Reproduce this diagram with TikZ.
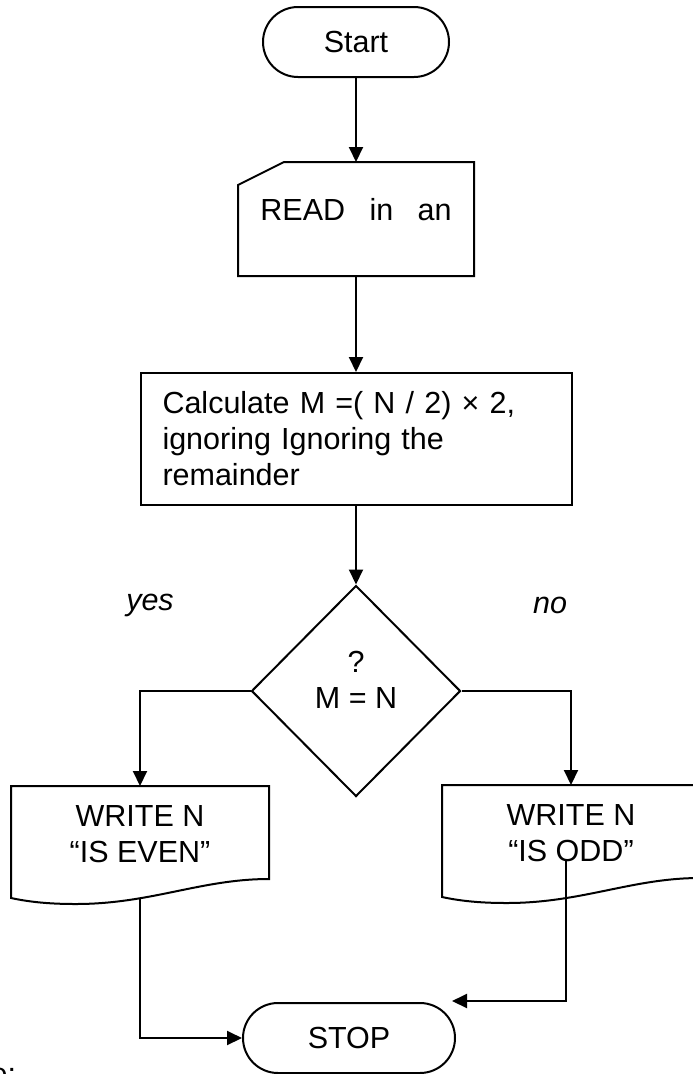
\documentclass[tikz,border=0pt]{standalone}
\usepackage{fontspec}
\setmainfont{Liberation Sans}
\usetikzlibrary{shapes.geometric, shapes.misc, arrows.meta, calc}

\tikzset{
  terminal/.style={draw, rounded rectangle, minimum height=70pt, inner sep=0pt},
  process/.style={draw, rectangle, align=left, text width=387pt, inner xsep=22pt, inner ysep=0pt, minimum height=132pt},
  decision/.style={draw, diamond, aspect=1, minimum width=209pt, minimum height=211pt, inner sep=0pt},
  cardbox/.style={rectangle, minimum width=234pt, minimum height=112pt, inner sep=0pt},
  docbox/.style={rectangle, minimum width=256pt, minimum height=110pt, inner sep=0pt},
  branch/.style={font=\fontsize{30.5}{36}\selectfont\itshape}
}

\begin{document}
\begin{tikzpicture}[x=1pt, y=-1pt, line width=2pt, font=\fontsize{30.5}{36}\selectfont,
                    >={Triangle[length=15pt,width=14pt]}]
                \useasboundingbox (0,0) rectangle (693,1074);

                \node[terminal, minimum width=186pt] (start) at (356,42) {Start};
                \node[cardbox, label={[yshift=9pt]center:READ\hspace{0.8em}in\hspace{0.8em}an}] (read) at (356,219) {};
                \node[process] (calc) at (356,439) {Calculate M =( N / 2) × 2,\\ignoring Ignoring the\\remainder};
                \node[decision, label={[align=center, yshift=11pt]center:?\\M = N}] (test) at (356,691) {};
                \node[docbox, label={[align=center, yshift=7.5pt]center:WRITE N\\“IS EVEN”}] (even) at (140,842) {};
                \node[docbox, label={[align=center, yshift=7.5pt]center:WRITE N\\“IS ODD”}] (odd) at (571,841) {};
                \node[terminal, minimum width=212pt] (stop) at (349,1038) {STOP};

                \node[branch] (yes) at (150,605) {yes};
                \node[branch] (no) at (550,605) {no};
                \node[anchor=base east, inner sep=0pt] (cut) at (17,1084) {e:};

                % outlines of the card and the two documents
                \draw ($(read.north west)+(0,23)$) -- ($(read.north west)+(46,0)$) -- (read.north east)
                  -- (read.south east) -- (read.south west) -- cycle;
                \foreach \d in {even, odd}
                {
                  \draw (\d.south west) -- (\d.north west) -- (\d.north east) -- ++(0,93)
                    .. controls +(-68,0) and +(75,0) .. ++(-193,25)
                    .. controls +(-20,0) and +(23,5) .. (\d.south west) -- cycle;
                }

                \coordinate (oddout) at ($(odd.center)+(-5,19)$);
                \coordinate (stopin) at ($(stop.north)+(103,-1)$);

                \draw[->] (start) -- (read);
                \draw[->] (read) -- (calc);
                \draw[->] (calc) -- (test);
                \draw[->] (test.west) -| (even.north);
                \draw[->] (test.east) -| (odd.north);
                \draw[->] (even.south) |- (stop.west);
                \draw[->] (oddout) |- (stopin);
\end{tikzpicture}
\end{document}
